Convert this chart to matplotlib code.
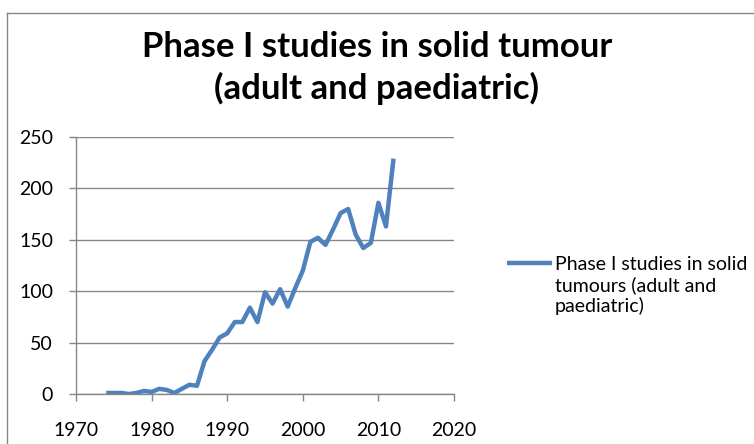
import matplotlib
matplotlib.use("Agg")
import matplotlib.pyplot as plt
from matplotlib.lines import Line2D

years = list(range(1974, 2013))
studies = [1, 1, 1, 0, 1, 3, 2, 5, 4, 1, 5, 9, 8, 32, 43, 55, 59, 70, 70, 84, 70,
           99, 88, 102, 85, 103, 120, 148, 152, 145, 160, 176, 180, 155, 142, 147,
           186, 163, 229]
series_label = "Phase I studies in solid\ntumours (adult and\npaediatric)"
title_text = "Phase I studies in solid tumour\n(adult and paediatric)"
xticks = [1970, 1980, 1990, 2000, 2010, 2020]
yticks = [0, 50, 100, 150, 200, 250]

FONT = ["Lato", "DejaVu Sans"]
plt.rcParams['font.family'] = FONT

W, H = 754, 444
fig = plt.figure(figsize=(W / 100, H / 100), dpi=100)
ax = fig.add_axes([76 / W, 1 - 394 / H, (454 - 76) / W, (394 - 137) / H])

grey = "#878787"
blue = "#4F81BD"
line, = ax.plot(years, studies, color=blue, lw=3.2, solid_joinstyle="round",
                solid_capstyle="butt", label=series_label)
ax.set_xlim(1970, 2020)
ax.set_ylim(0, 250)
ax.set_xticks(xticks)
ax.set_yticks(yticks)
ax.yaxis.grid(True, color=grey, lw=1.0)
ax.set_axisbelow(True)
for s in ["top", "right"]:
    ax.spines[s].set_visible(False)
for s in ["left", "bottom"]:
    ax.spines[s].set_color(grey)
    ax.spines[s].set_linewidth(1.0)
ax.tick_params(axis="both", direction="out", length=5, width=1.0, color=grey,
               labelsize=14, labelcolor="#000000")
ax.tick_params(axis="y", pad=11.5)
ax.tick_params(axis="x", pad=15.5)

fig.text(0.5, 1 - 31 / H, title_text, ha="center", va="top", fontsize=25,
         fontweight="bold", linespacing=1.31, family=FONT)

# legend (handle aligned with the first text line, as in the original)
fig.text(555 / W, 1 - 256 / H, line.get_label(), ha="left", va="top",
         fontsize=14, linespacing=1.21, family=FONT)
fig.add_artist(Line2D([507 / W, 552 / W], [1 - 262.5 / H, 1 - 262.5 / H],
                      transform=fig.transFigure, color=line.get_color(),
                      lw=line.get_linewidth(), solid_capstyle="butt"))

# outer chart frame (cropped)
fig.add_artist(Line2D([7 / W, 7 / W], [0, 1 - 13 / H], transform=fig.transFigure,
                      color=grey, lw=1.0))
fig.add_artist(Line2D([7 / W, 1], [1 - 13 / H, 1 - 13 / H], transform=fig.transFigure,
                      color=grey, lw=1.0))

fig.savefig("out.png", dpi=100)
